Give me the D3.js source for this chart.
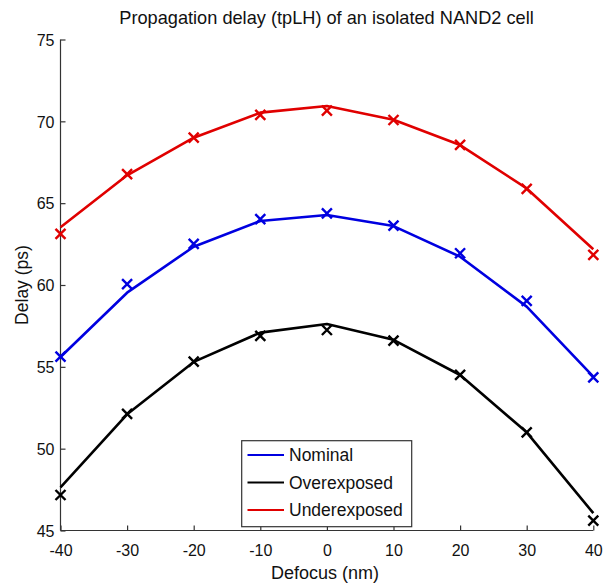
<!DOCTYPE html>
<html>
<head>
<meta charset="utf-8">
<script src="https://cdn.jsdelivr.net/npm/d3@7"></script>
<style>
  html, body { margin: 0; padding: 0; background: #fff; }
  svg { display: block; font-family: "Liberation Sans", Arial, sans-serif; }
</style>
</head>
<body>
<div id="chart"></div>
<script>
// Data
const defocus = [-40, -30, -20, -10, 0, 10, 20, 30, 40];

// measured points (x markers)
const nominalMeas = [55.62, 60.05, 62.51, 64.03, 64.38, 63.63, 61.94, 59.03, 54.36];
const overMeas    = [47.17, 52.12, 55.32, 56.89, 57.25, 56.60, 54.51, 51.00, 45.60];
const underMeas   = [63.12, 66.78, 69.00, 70.39, 70.65, 70.08, 68.56, 65.87, 61.84];

// fitted curves (lines)
const nominalFit = [55.60, 59.53, 62.34, 63.91, 64.28, 63.60, 61.73, 58.68, 54.40];
const overFit    = [47.64, 52.10, 55.30, 57.09, 57.62, 56.65, 54.50, 51.00, 46.06];
const underFit   = [63.53, 66.70, 69.00, 70.53, 70.94, 70.10, 68.55, 65.90, 62.18];

const xTicks = [-40, -30, -20, -10, 0, 10, 20, 30, 40];
const yTicks = [45, 50, 55, 60, 65, 70, 75];

const seriesNames = ['Nominal', 'Overexposed', 'Underexposed'];
const seriesColors = ['#0000e0', '#000000', '#e00000'];

const series = [
  { name: seriesNames[0], color: seriesColors[0], fit: nominalFit, meas: nominalMeas },
  { name: seriesNames[1], color: seriesColors[1], fit: overFit,    meas: overMeas },
  { name: seriesNames[2], color: seriesColors[2], fit: underFit,   meas: underMeas }
];

const width = 605, height = 587;
const margin = { left: 60.5, right: 11.7, top: 39.5, bottom: 56.5 };

const svg = d3.select('#chart')
  .append('svg')
    .attr('width', width)
    .attr('height', height);

const x = d3.scaleLinear()
  .domain([-40, 40])
  .range([margin.left, width - margin.right]);

const y = d3.scaleLinear()
  .domain([45, 75])
  .range([height - margin.bottom, margin.top]);

const axisColor = '#333';

// Axes (ticks pointing inward, box off)
const xAxis = svg.append('g')
  .attr('transform', `translate(0,${y(45)})`)
  .call(d3.axisTop(x).tickValues(xTicks).tickSize(5).tickFormat(d3.format('d')));
xAxis.select('.domain').attr('stroke', axisColor).attr('stroke-width', 1.2)
  .attr('d', `M${x(-40)},0H${x(40)}`);
xAxis.selectAll('.tick line').attr('stroke', axisColor).attr('stroke-width', 1.2);
xAxis.selectAll('.tick text')
  .attr('y', 25)
  .attr('dy', 0)
  .attr('fill', '#111')
  .style('font-size', '16px')
  .text(d => d < 0 ? '-' + Math.abs(d) : d);

const yAxis = svg.append('g')
  .attr('transform', `translate(${x(-40)},0)`)
  .call(d3.axisRight(y).tickValues(yTicks).tickSize(5));
yAxis.select('.domain').attr('stroke', axisColor).attr('stroke-width', 1.2)
  .attr('d', `M0,${y(45)}V${y(75)}`);
yAxis.selectAll('.tick line').attr('stroke', axisColor).attr('stroke-width', 1.2);
yAxis.selectAll('.tick text')
  .attr('x', -6)
  .attr('dy', '0.36em')
  .attr('text-anchor', 'end')
  .attr('fill', '#111')
  .style('font-size', '16px');

// Fitted lines
const line = d3.line()
  .x((d, i) => x(defocus[i]))
  .y(d => y(d));

svg.append('g')
  .selectAll('path')
  .data(series)
  .join('path')
    .attr('d', d => line(d.fit))
    .attr('fill', 'none')
    .attr('stroke', d => d.color)
    .attr('stroke-width', 2.6)
    .attr('stroke-linejoin', 'round');

// Measured markers (x)
const ms = 5;
series.forEach(s => {
  svg.append('g')
    .selectAll('path')
    .data(s.meas)
    .join('path')
      .attr('d', (d, i) => {
        const cx = x(defocus[i]), cy = y(d);
        return `M${cx - ms},${cy - ms}L${cx + ms},${cy + ms}M${cx - ms},${cy + ms}L${cx + ms},${cy - ms}`;
      })
      .attr('stroke', s.color)
      .attr('stroke-width', 2.4)
      .attr('fill', 'none');
});

// Title and axis labels
svg.append('text')
  .attr('x', 326.5)
  .attr('y', 24)
  .attr('text-anchor', 'middle')
  .attr('fill', '#111')
  .style('font-size', '18.2px')
  .text('Propagation delay (tpLH) of an isolated NAND2 cell');

svg.append('text')
  .attr('x', 325)
  .attr('y', 579)
  .attr('text-anchor', 'middle')
  .attr('fill', '#111')
  .style('font-size', '18px')
  .text('Defocus (nm)');

svg.append('text')
  .attr('transform', `translate(28,${(y(45) + y(75)) / 2}) rotate(-90)`)
  .attr('text-anchor', 'middle')
  .attr('fill', '#111')
  .style('font-size', '17.5px')
  .text('Delay (ps)');

// Legend
const legend = svg.append('g');
legend.append('rect')
  .attr('x', 241.7)
  .attr('y', 440.7)
  .attr('width', 170)
  .attr('height', 86)
  .attr('fill', '#fff')
  .attr('stroke', axisColor)
  .attr('stroke-width', 1.2);

const entries = legend.selectAll('g.entry')
  .data(series)
  .join('g')
    .attr('class', 'entry')
    .attr('transform', (d, i) => `translate(0,${455 + i * 27.5})`);

entries.append('line')
  .attr('x1', 247.5)
  .attr('x2', 284)
  .attr('stroke', d => d.color)
  .attr('stroke-width', 2.2);

entries.append('text')
  .attr('x', 289)
  .attr('dy', '0.36em')
  .attr('fill', '#111')
  .style('font-size', '17.5px')
  .text(d => d.name);
</script>
</body>
</html>
